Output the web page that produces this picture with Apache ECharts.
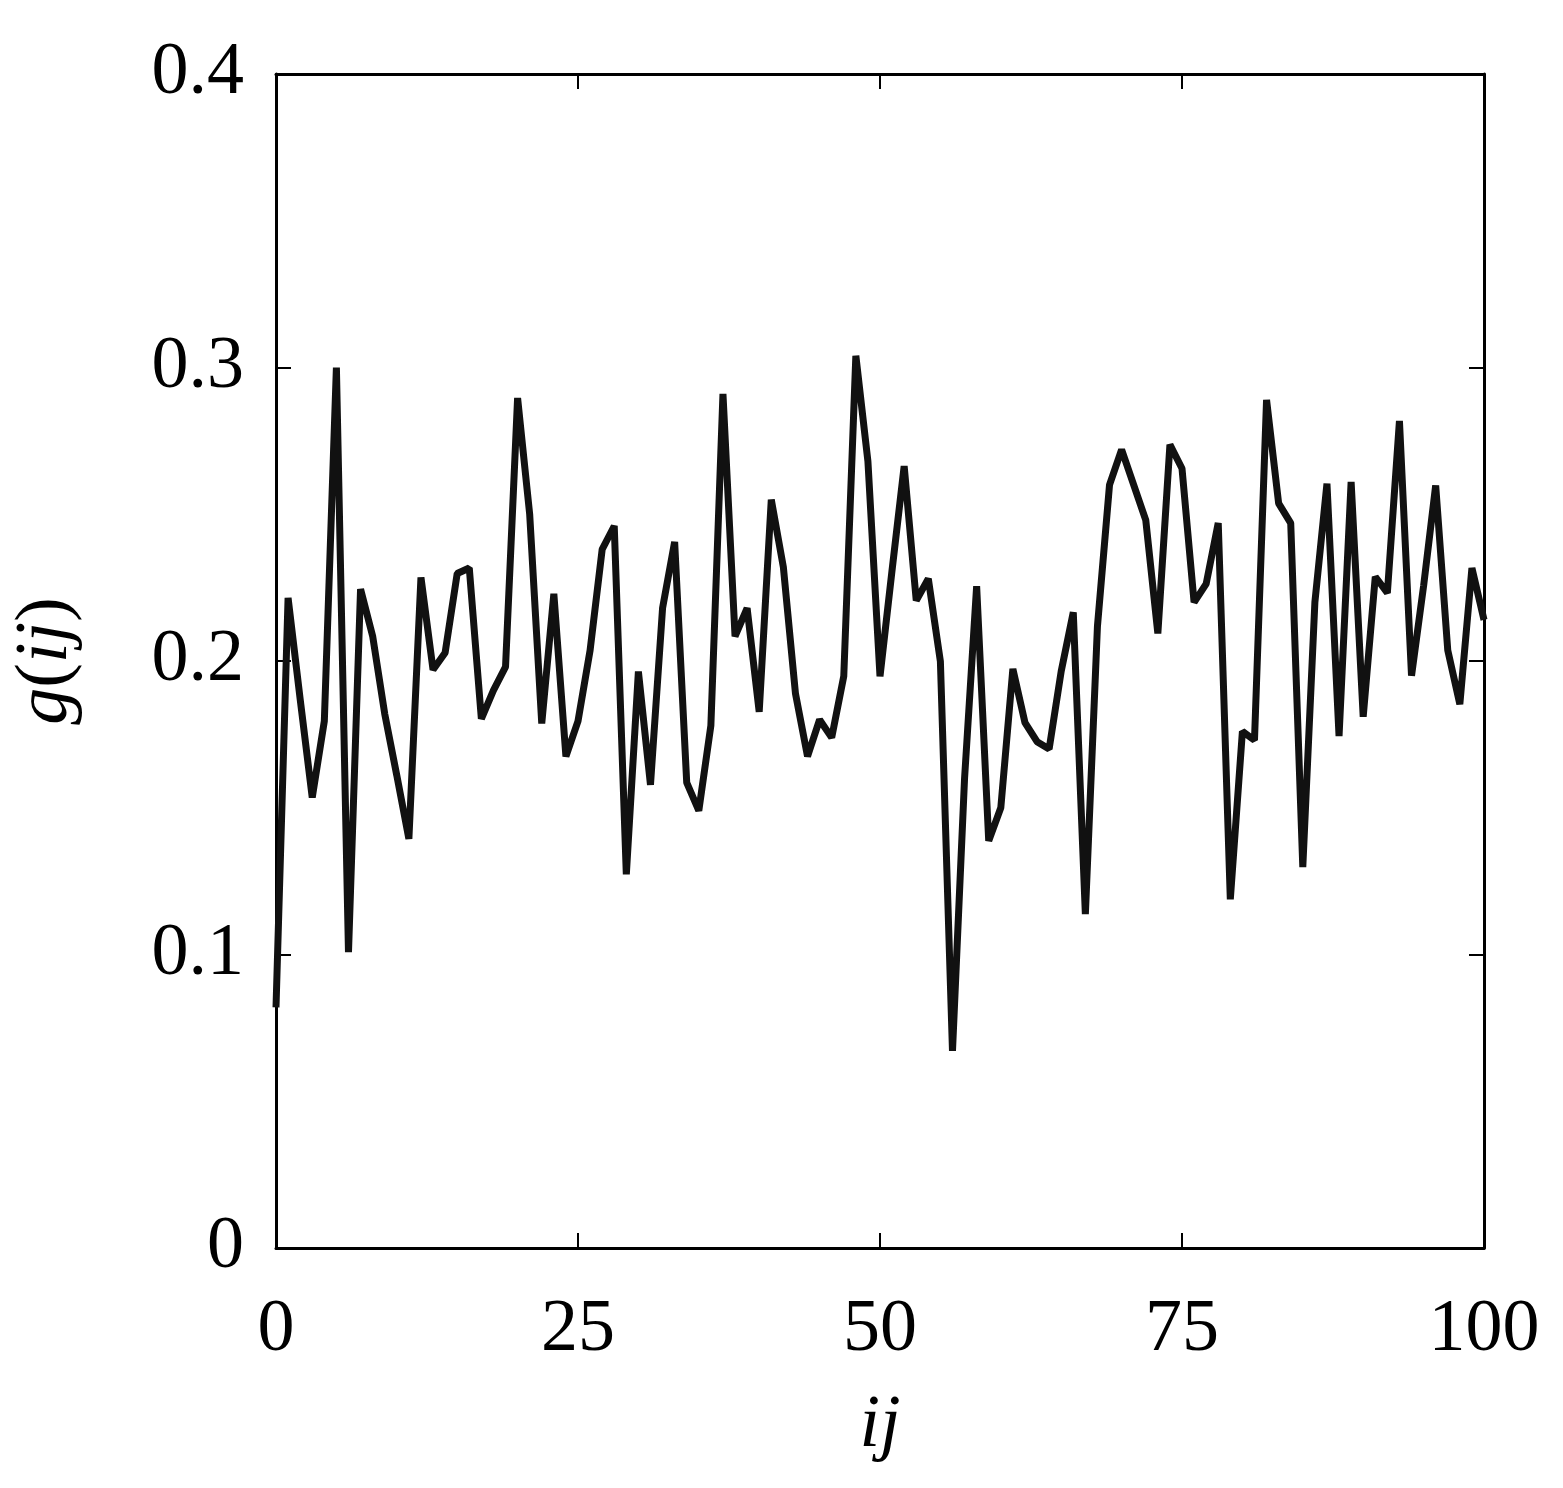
<!DOCTYPE html>
<html>
<head>
<meta charset="utf-8">
<script src="https://cdn.jsdelivr.net/npm/echarts@6/dist/echarts.min.js"></script>
<style>
html,body{margin:0;padding:0;background:#fff;}
#chart{width:1563px;height:1488px;}
</style>
</head>
<body>
<div id="chart"></div>
<script>
// x positions (ij) and values g(ij)
const ijValues = [0,1,2,3,4,5,6,7,8,9,10,11,12,13,14,15,16,17,18,19,20,21,22,23,24,25,26,27,28,29,30,31,32,33,34,35,36,37,38,39,40,41,42,43,44,45,46,47,48,49,50,51,52,53,54,55,56,57,58,59,60,61,62,63,64,65,66,67,68,69,70,71,72,73,74,75,76,77,78,79,80,81,82,83,84,85,86,87,88,89,90,91,92,93,94,95,96,97,98,99,100];
const gValues = [
  0.082,0.2215,0.187,0.1535,0.1795,0.300,0.1008,0.2245,0.2085,0.182,0.161,
  0.1394,0.2285,0.197,0.2028,0.2298,0.2317,0.1803,0.190,0.198,0.2896,
  0.250,0.1787,0.2229,0.1675,0.1795,0.2036,0.238,0.246,0.1273,0.1964,
  0.1578,0.218,0.2406,0.1586,0.149,0.178,0.291,0.2084,0.218,0.1827,
  0.255,0.232,0.189,0.1675,0.180,0.1739,0.1948,0.304,0.268,0.1948,
  0.231,0.2664,0.2206,0.228,0.1998,0.0672,0.160,0.2255,0.1387,0.150,
  0.1973,0.179,0.1725,0.170,0.1965,0.2166,0.1138,0.2118,0.260,0.272,
  0.260,0.248,0.2094,0.2737,0.2656,0.220,0.2263,0.247,0.1188,0.176,
  0.173,0.289,0.2537,0.247,0.1298,0.220,0.2604,0.1744,0.261,0.181,
  0.2287,0.2232,0.2818,0.195,0.2256,0.2598,0.2037,0.1853,0.2317,0.214
];
const xTicks = [0,25,50,75,100];
const yTicks = [0,0.1,0.2,0.3,0.4];

const FONT = '"Liberation Serif","Times New Roman",serif';
const INK = '#000';
const seriesData = ijValues.map((x,i)=>[x,gValues[i]]);

const chart = echarts.init(document.getElementById('chart'), null, {renderer:'canvas'});
const tickStyle = {show:true, inside:true, length:15, lineStyle:{color:INK,width:2}};
const lineStyle = {color:INK,width:3};
chart.setOption({
  animation:false,
  backgroundColor:'#fff',
  grid:{left:276,right:79,top:74,bottom:240,containLabel:false},
  xAxis:[{
    type:'value',min:0,max:100,interval:25,position:'bottom',
    axisLine:{show:true,onZero:false,lineStyle:lineStyle},
    axisTick:tickStyle,
    splitLine:{show:false},
    axisLabel:{show:true,color:INK,fontFamily:FONT,fontSize:74,margin:46,
      formatter:v=>xTicks.includes(v)?String(v):''},
    name:'{it|ij}',nameLocation:'middle',nameGap:142,
    nameTextStyle:{rich:{it:{fontFamily:FONT,fontSize:74,fontStyle:'italic',color:INK}}}
  },{
    type:'value',min:0,max:100,interval:25,position:'top',
    axisLine:{show:true,onZero:false,lineStyle:lineStyle},
    axisTick:tickStyle,axisLabel:{show:false},splitLine:{show:false}
  }],
  yAxis:[{
    type:'value',min:0,max:0.4,interval:0.1,position:'left',
    axisLine:{show:true,onZero:false,lineStyle:lineStyle},
    axisTick:tickStyle,
    splitLine:{show:false},
    axisLabel:{show:true,color:INK,fontFamily:FONT,fontSize:74,margin:32,
      formatter:v=>{const t=yTicks.find(y=>Math.abs(y-v)<1e-9);return t===undefined?'':(t===0?'0':t.toFixed(1));}},
    name:'{it|g}{n|(}{it|ij}{n|)}',nameLocation:'middle',nameGap:192,nameRotate:90,
    nameTextStyle:{rich:{
      it:{fontFamily:FONT,fontSize:74,fontStyle:'italic',color:INK},
      n:{fontFamily:FONT,fontSize:74,color:INK}}}
  },{
    type:'value',min:0,max:0.4,interval:0.1,position:'right',
    axisLine:{show:true,onZero:false,lineStyle:lineStyle},
    axisTick:tickStyle,axisLabel:{show:false},splitLine:{show:false}
  }],
  series:[{
    type:'line',xAxisIndex:0,yAxisIndex:0,
    data:seriesData,
    showSymbol:false,symbol:'none',
    lineStyle:{color:'#111',width:7,join:'bevel',cap:'butt'},
    clip:true
  }]
});
</script>
</body>
</html>
